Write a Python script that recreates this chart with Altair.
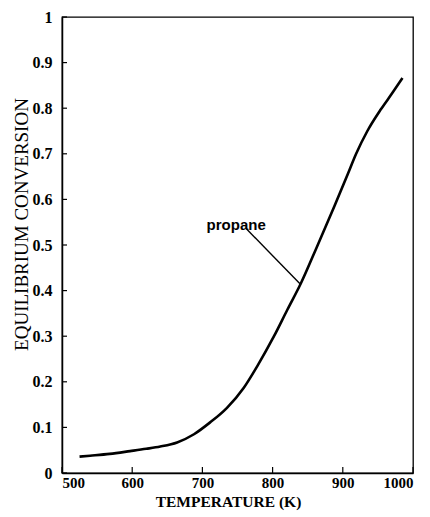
import altair as alt
import pandas as pd

# Equilibrium conversion of propane versus temperature
temps = [525, 540, 568, 597, 620, 640, 664, 688, 711, 735, 759, 778,
         802, 821, 840, 862, 888, 907, 919, 935, 954, 970, 985]
conv = [0.036, 0.038, 0.042, 0.048, 0.053, 0.058, 0.067, 0.085, 0.111, 0.143,
        0.187, 0.234, 0.300, 0.358, 0.415, 0.492, 0.585, 0.655, 0.700,
        0.750, 0.797, 0.832, 0.866]

x_ticks = [500, 600, 700, 800, 900, 1000]
y_ticks = [0, 0.1, 0.2, 0.3, 0.4, 0.5, 0.6, 0.7, 0.8, 0.9, 1.0]

# label and leader line
label_text = ["propane"]
label_t = [706]
label_v = [0.533]
leader_t = [763]
leader_v = [0.535]
leader_t2 = [839]
leader_v2 = [0.415]

W, H = 351, 456
SERIF = "Liberation Serif"

curve = pd.DataFrame({"t": temps, "v": conv})
xt = pd.DataFrame({"t": x_ticks})
yt = pd.DataFrame({"v": y_ticks})
lab = pd.DataFrame({"text": label_text, "t": label_t, "v": label_v})
lead = pd.DataFrame({"t": leader_t, "v": leader_v, "t2": leader_t2, "v2": leader_v2})

xscale = alt.Scale(domain=[500, 1000], nice=False, zero=False)
yscale = alt.Scale(domain=[0, 1], nice=False)

xaxis = alt.Axis(
    values=x_ticks, format="d", ticks=False, labelPadding=2, labelFontSize=15,
    labelFont=SERIF, labelFontWeight="bold", labelColor="black",
    domainColor="black", domainWidth=1.5, grid=False,
    title="TEMPERATURE (K)", titleFont=SERIF, titleFontSize=15.5,
    titleFontWeight="bold", titleColor="black",
    titleBaseline="alphabetic", titleAlign="center",
    titleX=166, titleY=33,
)
yaxis = alt.Axis(
    values=y_ticks, format=".1~f", ticks=False, labelPadding=10,
    labelFontSize=16, labelFont=SERIF, labelFontWeight="bold",
    labelColor="black", domainColor="black", domainWidth=1.5, grid=False,
    title="EQUILIBRIUM CONVERSION", titleFont=SERIF, titleFontSize=19,
    titleFontWeight="normal", titleColor="black",
    titleBaseline="alphabetic", titleAlign="center", titleAngle=270,
    titleX=-35, titleY=207,
)

X = alt.X("t:Q", scale=xscale, axis=xaxis)
Y = alt.Y("v:Q", scale=yscale, axis=yaxis)

line = alt.Chart(curve).mark_line(
    color="black", strokeWidth=2.6, interpolate="monotone"
).encode(x=X, y=Y)

# inward tick marks
xtick_marks = alt.Chart(xt).mark_rule(color="black", strokeWidth=1.2).encode(
    x=X, y=alt.value(H), y2=alt.value(H - 6),
)
ytick_marks = alt.Chart(yt).mark_rule(color="black", strokeWidth=1.2).encode(
    y=Y, x=alt.value(0), x2=alt.value(5),
)

leader = alt.Chart(lead).mark_rule(color="black", strokeWidth=1.4).encode(
    x=X, y=Y, x2="t2:Q", y2="v2:Q",
)

label = alt.Chart(lab).mark_text(
    align="left", baseline="alphabetic", font="Liberation Sans",
    fontSize=15, fontWeight="bold", color="black",
).encode(x=X, y=Y, text="text:N")

chart = alt.layer(line, xtick_marks, ytick_marks, leader, label).properties(
    width=W,
    height=H,
    autosize=alt.AutoSizeParams(type="none"),
    padding={"left": 62, "top": 17, "right": 17, "bottom": 44},
    background="white",
).configure_view(stroke="black", strokeWidth=1.3)

chart.save("out.html", embed_options={"renderer": "svg", "actions": False})
